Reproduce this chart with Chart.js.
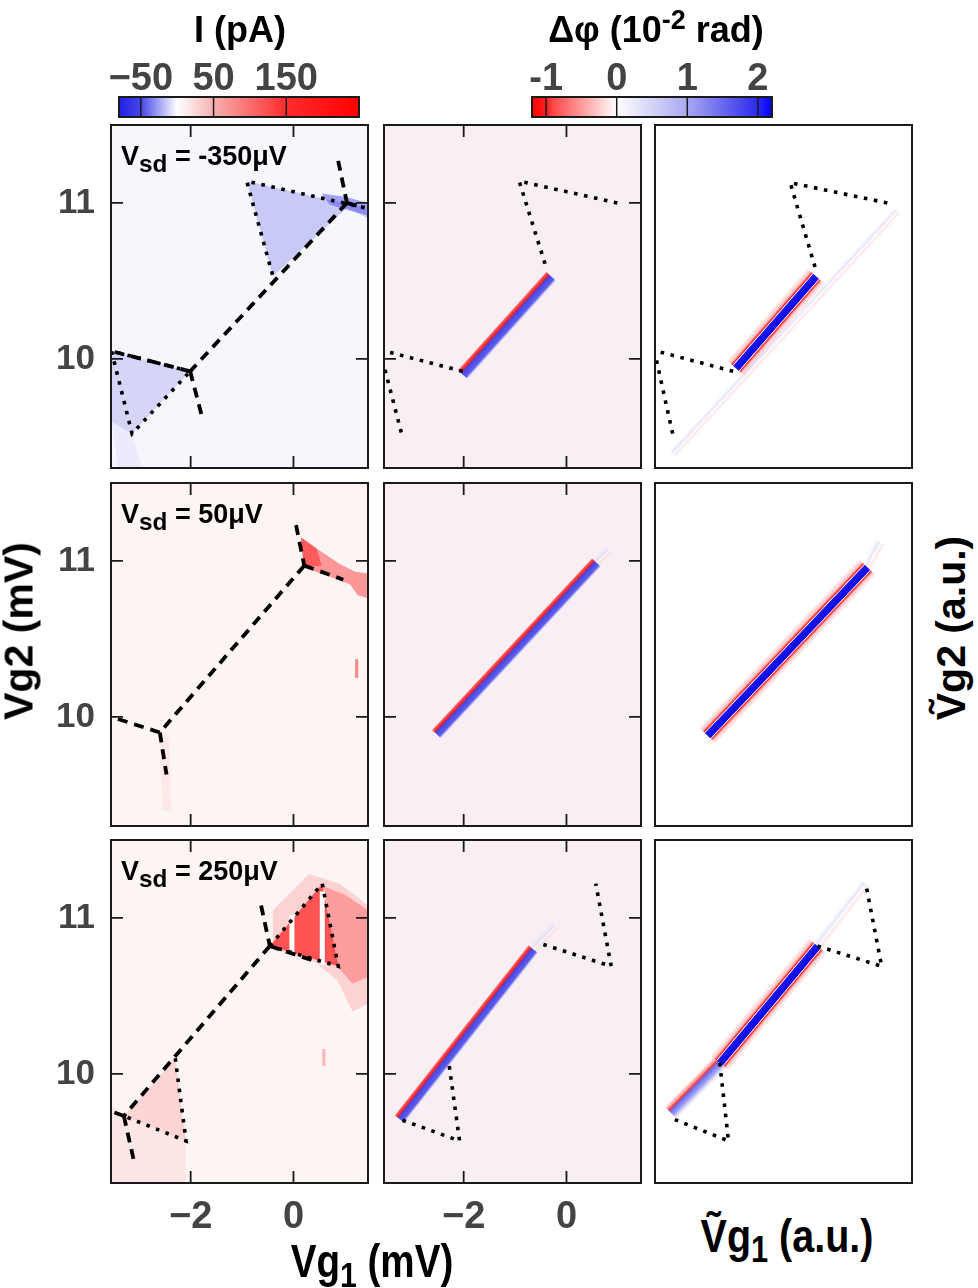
<!DOCTYPE html>
<html>
<head>
<meta charset="utf-8">
<script src="https://cdn.jsdelivr.net/npm/chart.js@4.4.1/dist/chart.umd.min.js"></script>
<style>
  body { margin: 0; width: 978px; height: 1288px; background: #fff; position: relative; overflow: hidden;
         font-family: 'Liberation Sans', Arial, sans-serif; font-weight: bold; }
  canvas { position: absolute; z-index: 1; }
  .lbl { position: absolute; white-space: nowrap; color: #000; line-height: 1; z-index: 2; }
  .lbl sub { font-size: 0.78em; vertical-align: -0.28em; line-height: 0; }
  .lbl sup { font-size: 0.75em; vertical-align: 0.5em; line-height: 0; }
  .vsd sub { font-size: 0.9em; vertical-align: -0.3em; }
</style>
</head>
<body>
<div class="lbl" style="left:240px;top:12px;font-size:36px;transform:translateX(-50%)">I (pA)</div>
<div class="lbl" style="left:656px;top:12px;font-size:36px;transform:translateX(-50%)">Δφ (10<sup>-2</sup> rad)</div>
<div class="lbl vsd" style="left:121px;top:143px;font-size:27px">V<sub>sd</sub> = -350μV</div>
<div class="lbl vsd" style="left:121px;top:501px;font-size:27px">V<sub>sd</sub> = 50μV</div>
<div class="lbl vsd" style="left:121px;top:858px;font-size:27px">V<sub>sd</sub> = 250μV</div>
<div class="lbl" style="left:19px;top:631px;font-size:41px;transform:translate(-50%,-50%) rotate(-90deg)">Vg2 (mV)</div>
<div class="lbl" style="left:951px;top:628px;font-size:41px;transform:translate(-50%,-50%) rotate(-90deg)">Ṽg2 (a.u.)</div>
<div class="lbl" style="left:372px;top:1238px;font-size:46px;transform:translateX(-50%) scaleX(0.84)">Vg<sub>1</sub> (mV)</div>
<div class="lbl" style="left:787px;top:1212px;font-size:47px;transform:translateX(-50%) scaleX(0.84)">Ṽg<sub>1</sub> (a.u.)</div>

<script>
// ---------- data ----------
var X_RANGE = [-3.55, 1.45];          // Vg1 (mV)
var Y_RANGE = [9.30, 11.50];          // Vg2 (mV)
var X_TICKS = [-2, 0];
var Y_TICKS = [10, 11];

var CURRENT_RANGE = [-80, 250];       // I (pA) colour bar
var CURRENT_TICKS = [-50, 50, 150];
var PHASE_RANGE = [-1.2, 2.2];        // dphi (1e-2 rad) colour bar
var PHASE_TICKS = [-1, 0, 1, 2];

// Vsd = -350 uV : transport
var t1Dashed = [
  [[0.87, 11.27], [1.04, 11.00]],
  [[1.04, 11.00], [1.38, 10.97]],
  [[1.04, 11.00], [-2.01, 9.92]],
  [[-2.01, 9.92], [-3.55, 10.05]],
  [[-2.01, 9.92], [-1.78, 9.63]]
];
var t1Dotted = [
  [[1.38, 10.97], [-0.91, 11.14], [-0.40, 10.53]],
  [[-2.01, 9.92], [-3.54, 10.05], [-3.14, 9.52], [-2.01, 9.92]]
];
var t1BlueUpper = [[-0.91, 11.14], [1.40, 10.97], [1.45, 10.90], [1.04, 10.97], [-0.40, 10.53]];
var t1BlueSpot = [[0.55, 11.06], [1.00, 11.04], [1.45, 11.00], [1.45, 10.92], [1.00, 10.96], [0.70, 10.99]];
var t1BlueLower = [[-3.55, 10.05], [-2.01, 9.92], [-3.14, 9.52], [-3.55, 9.60]];
var t1BlueTail = [[-3.55, 9.60], [-3.14, 9.52], [-2.95, 9.30], [-3.40, 9.30]];

// Vsd = -350 uV : phase and model
var p1Stripe = [[-2.02, 9.90], [-0.30, 10.53]];
var p1Dotted = [
  [[0.99, 11.00], [-0.92, 11.14], [-0.38, 10.57]],
  [[-2.02, 9.92], [-3.53, 10.05]],
  [[-3.53, 9.93], [-3.20, 9.51]]
];
var m1Stripe = [[-1.98, 9.94], [-0.42, 10.53]];
var m1Faint = [[-3.20, 9.39], [1.17, 10.95]];
var m1Dotted = [
  [[0.97, 11.00], [-0.92, 11.13], [-0.42, 10.57]],
  [[-2.03, 9.92], [-3.52, 10.05]],
  [[-3.52, 9.99], [-3.20, 9.51]]
];

// Vsd = 50 uV
var t2Dashed = [
  [[0.05, 11.23], [0.21, 10.97]],
  [[0.21, 10.97], [0.97, 10.88]],
  [[0.21, 10.97], [-2.60, 9.90]],
  [[-2.60, 9.90], [-3.45, 9.99]],
  [[-2.60, 9.90], [-2.47, 9.63]]
];
var t2RedBand = [[0.15, 11.15], [0.45, 11.08], [0.90, 10.98], [1.20, 10.93], [1.45, 10.92], [1.45, 10.76],
                 [1.25, 10.78], [1.10, 10.85], [0.70, 10.90], [0.35, 10.94], [0.20, 10.96]];
var t2RedCore = [[0.15, 11.15], [0.45, 11.08], [0.55, 10.97], [0.20, 10.96]];
var t2RedTrace = [[1.23, 10.37], [1.23, 10.25]];
var t2RedTail = [[-2.60, 9.90], [-2.42, 9.86], [-2.38, 9.40], [-2.55, 9.40]];
var p2Stripe = [[-2.53, 9.89], [0.58, 10.99]];
var p2Faint = [[0.58, 10.99], [0.84, 11.07]];
var m2Stripe = [[-2.53, 9.88], [0.58, 10.96]];
var m2Faint = [[0.58, 10.96], [0.84, 11.12]];

// Vsd = 250 uV
var t3Dashed = [
  [[-0.63, 11.08], [-0.46, 10.82]],
  [[-0.46, 10.82], [0.35, 10.73]],
  [[-0.46, 10.82], [-3.30, 9.73]],
  [[-3.30, 9.73], [-3.55, 9.76]],
  [[-3.30, 9.73], [-3.11, 9.45]]
];
var t3Dotted = [
  [[-0.46, 10.82], [0.56, 11.22], [0.87, 10.69], [-0.46, 10.82]],
  [[-2.30, 10.10], [-2.09, 9.57], [-3.30, 9.73]]
];
var t3RedHalo = [[-0.40, 11.05], [0.30, 11.28], [0.90, 11.22], [1.45, 11.08], [1.45, 10.45], [1.15, 10.40],
                 [0.85, 10.60], [0.40, 10.72], [-0.40, 10.80]];
var t3RedRight = [[0.60, 11.20], [1.00, 11.15], [1.45, 11.05], [1.45, 10.62], [1.15, 10.58], [0.85, 10.69]];
var t3RedPeak = [[-0.46, 10.82], [0.56, 11.22], [0.87, 10.69]];
var t3Gaps = [
  [[-0.03, 10.78], [-0.03, 11.02]],
  [[0.56, 10.70], [0.56, 11.17]]
];
var t3RedLower = [[-2.30, 10.10], [-2.09, 9.57], [-3.30, 9.73]];
var t3RedTail = [[-3.55, 9.80], [-3.30, 9.73], [-2.09, 9.57], [-2.10, 9.30], [-3.55, 9.30]];
var t3RedTrace = [[0.59, 10.16], [0.59, 10.05]];
var p3Stripe = [[-3.25, 9.71], [-0.65, 10.80]];
var p3Faint = [[-0.65, 10.80], [-0.20, 10.95]];
var p3Dotted = [
  [[-0.45, 10.83], [0.87, 10.69], [0.57, 11.22]],
  [[-2.28, 10.05], [-2.08, 9.57], [-3.25, 9.71]]
];
var m3Core = [[-2.29, 10.07], [-0.39, 10.82]];
var m3Tail = [[-3.24, 9.75], [-2.29, 10.07]];
var m3Faint = [[-0.39, 10.82], [0.55, 11.22]];
var m3Dotted = [
  [[-0.39, 10.82], [0.86, 10.69], [0.55, 11.22]],
  [[-2.29, 10.07], [-2.12, 9.57], [-3.19, 9.71]]
];

// ---------- styles ----------
var COL_LEFT = [111, 384, 655];
var ROW_TOP = [125, 483, 840];
var PW = 257, PH = 343;
var Y_TICK_FONT = { family: "'Liberation Sans', Arial, sans-serif", size: 35, weight: 'bold' };
var X_TICK_FONT = { family: "'Liberation Sans', Arial, sans-serif", size: 38, weight: 'bold' };
var BAR_FONT = { family: "'Liberation Sans', Arial, sans-serif", size: 38, weight: 'bold' };

var PHASE_STRIPE = [[0, 'rgba(255,80,80,0)'], [0.1, 'rgba(245,40,40,0.75)'], [0.3, 'rgb(238,30,40)'],
                    [0.4, 'rgb(70,70,228)'], [0.8, 'rgb(95,95,235)'], [1, 'rgba(150,150,245,0)']];
var MODEL_STRIPE = [[0, 'rgba(255,60,60,0)'], [0.2, 'rgba(255,90,90,0.35)'], [0.3, 'rgb(255,20,20)'],
                    [0.34, 'rgb(255,255,255)'], [0.37, 'rgb(25,25,235)'], [0.65, 'rgb(10,10,230)'],
                    [0.68, 'rgb(255,255,255)'], [0.72, 'rgb(255,30,30)'], [0.82, 'rgba(255,90,90,0.3)'],
                    [1, 'rgba(255,60,60,0)']];
var MODEL_TAIL = [[0, 'rgba(255,60,60,0)'], [0.2, 'rgba(255,60,60,0.5)'], [0.32, 'rgba(255,30,30,0.9)'],
                  [0.4, 'rgba(90,90,232,0.9)'], [0.68, 'rgba(130,130,240,0.75)'], [1, 'rgba(200,200,250,0)']];
var FAINT = [[0, 'rgba(220,220,250,0)'], [0.35, 'rgba(200,200,248,0.45)'], [0.55, 'rgba(255,255,255,0.5)'],
             [0.7, 'rgba(255,200,200,0.45)'], [1, 'rgba(255,220,220,0)']];

var CURRENT_COLORS = [[-80, '#2020e6'], [-50, '#4646ea'], [0, '#ffffff'], [50, '#f6b0b0'], [150, '#ff2c2c'], [250, '#ff0000']];
var PHASE_COLORS = [[-1.2, '#ff0000'], [-1, '#ff2020'], [-0.9, '#ff4848'], [0, '#ffffff'], [1, '#a8a8f2'], [2, '#2a2aee'], [2.2, '#0000ff']];

function pts(a) { return a.map(function (p) { return { x: p[0], y: p[1] }; }); }

function lineSet(a, color, width, dash) {
  return { data: pts(a), showLine: true, borderColor: color, borderWidth: width, borderDash: dash || [],
           borderCapStyle: 'butt', borderJoinStyle: 'miter', pointRadius: 0, fill: false, clip: 0 };
}
function dashed(a) { return lineSet(a, '#000', 3.8, [10, 7]); }
function dotted(a) { return lineSet(a, '#000', 3.6, [3.6, 6.6]); }

function areaSet(a, color) {
  return { data: pts(a.concat([a[0]])), showLine: true, borderWidth: 0, borderColor: 'rgba(0,0,0,0)',
           backgroundColor: color, fill: 'shape', pointRadius: 0, clip: 0 };
}

// gradient across the stripe, perpendicular to its direction
function stripeColor(stops, width) {
  return function (ctx) {
    var chart = ctx.chart, d = ctx.dataset.data;
    if (!chart.chartArea) return stops[Math.floor(stops.length / 2)][1];
    var xs = chart.scales.x, ys = chart.scales.y;
    var x0 = xs.getPixelForValue(d[0].x), y0 = ys.getPixelForValue(d[0].y);
    var x1 = xs.getPixelForValue(d[1].x), y1 = ys.getPixelForValue(d[1].y);
    var len = Math.hypot(x1 - x0, y1 - y0) || 1;
    var nx = (y1 - y0) / len, ny = -(x1 - x0) / len, h = width / 2;
    var g = chart.ctx.createLinearGradient(x0 + nx * h, y0 + ny * h, x0 - nx * h, y0 - ny * h);
    stops.forEach(function (s) { g.addColorStop(s[0], s[1]); });
    return g;
  };
}
function stripeSet(a, width, stops) {
  return { data: pts(a), showLine: true, borderWidth: width, borderCapStyle: 'butt', pointRadius: 0,
           fill: false, clip: 0, borderColor: stripeColor(stops, width) };
}

var panelFrame = {
  id: 'panelFrame',
  beforeDatasetsDraw: function (chart, args, opts) {
    var a = chart.chartArea, c = chart.ctx;
    if (opts.bg) { c.save(); c.fillStyle = opts.bg; c.fillRect(a.left, a.top, a.width, a.height); c.restore(); }
  },
  afterDraw: function (chart, args, opts) {
    var a = chart.chartArea, c = chart.ctx, xs = chart.scales.x, ys = chart.scales.y;
    c.save();
    c.strokeStyle = '#1a1a1a';
    if (opts.ticks) {
      c.lineWidth = 1.8;
      c.beginPath();
      X_TICKS.forEach(function (v) {
        var p = xs.getPixelForValue(v);
        c.moveTo(p, a.top); c.lineTo(p, a.top + 12);
        c.moveTo(p, a.bottom); c.lineTo(p, a.bottom - 12);
      });
      Y_TICKS.forEach(function (v) {
        var p = ys.getPixelForValue(v);
        c.moveTo(a.left, p); c.lineTo(a.left + 12, p);
        c.moveTo(a.right, p); c.lineTo(a.right - 12, p);
      });
      c.stroke();
    }
    c.lineWidth = 2;
    c.strokeRect(a.left, a.top, a.width, a.height);
    c.restore();
  }
};

function minusFmt(v) { return v < 0 ? '\u2212' + Math.abs(v) : String(v); }
function noPad(s) { s.paddingLeft = 0; s.paddingRight = 0; s.paddingTop = 0; s.paddingBottom = 0; }

function makePanel(r, c, bg, ticks, layers) {
  var showX = r === 2 && c < 2, showY = c === 0;
  var L = COL_LEFT[c], T = ROW_TOP[r];
  var cv = document.createElement('canvas');
  var left = showY ? 0 : L - 3;
  var w = (showY ? L : 3) + PW + 3;
  var h = 3 + PH + (showX ? 60 : 3);
  cv.style.left = left + 'px'; cv.style.top = (T - 3) + 'px';
  cv.style.width = w + 'px'; cv.style.height = h + 'px';
  cv.width = w; cv.height = h;
  document.body.appendChild(cv);
  new Chart(cv, {
    type: 'scatter',
    data: { datasets: layers.slice().reverse() },
    plugins: [panelFrame],
    options: {
      responsive: false, animation: false, devicePixelRatio: 1,
      layout: { padding: { top: 3, right: 3, left: showY ? 0 : 3, bottom: showX ? 0 : 3 } },
      plugins: { legend: { display: false }, tooltip: { enabled: false }, panelFrame: { bg: bg, ticks: ticks } },
      scales: {
        x: {
          type: 'linear', min: X_RANGE[0], max: X_RANGE[1], display: showX, position: 'bottom',
          afterBuildTicks: function (s) { s.ticks = X_TICKS.map(function (v) { return { value: v }; }); },
          afterFit: function (s) { if (showX) s.height = 60; noPad(s); },
          grid: { display: false, drawTicks: false }, border: { display: false },
          ticks: { font: X_TICK_FONT, color: '#444', padding: 12, maxRotation: 0, callback: minusFmt }
        },
        y: {
          type: 'linear', min: Y_RANGE[0], max: Y_RANGE[1], display: showY,
          afterBuildTicks: function (s) { s.ticks = Y_TICKS.map(function (v) { return { value: v }; }); },
          afterFit: function (s) { if (showY) s.width = L; noPad(s); },
          grid: { display: false, drawTicks: false }, border: { display: false },
          ticks: { font: Y_TICK_FONT, color: '#444', padding: 16 }
        }
      }
    }
  });
}

// ---------- colour bars ----------
var barFrame = {
  id: 'barFrame',
  afterDatasetsDraw: function (chart, args, opts) {
    var a = chart.chartArea, c = chart.ctx, xs = chart.scales.x;
    c.save();
    c.strokeStyle = '#1a1a1a';
    c.lineWidth = 1.5;
    c.beginPath();
    opts.ticks.forEach(function (v) { var p = xs.getPixelForValue(v); c.moveTo(p, a.top); c.lineTo(p, a.bottom); });
    c.stroke();
    c.lineWidth = 2;
    c.strokeRect(a.left, a.top, a.width, a.height);
    c.restore();
  }
};

function makeColorBar(left, barLeft, label, range, ticks, colors, fmt) {
  var cv = document.createElement('canvas');
  var w = 300, h = 80, top = 40;
  cv.style.left = left + 'px'; cv.style.top = top + 'px';
  cv.style.width = w + 'px'; cv.style.height = h + 'px';
  cv.width = w; cv.height = h;
  document.body.appendChild(cv);
  var padL = barLeft - left, padR = w - padL - 240;
  new Chart(cv, {
    type: 'bar',
    data: {
      labels: [label],
      datasets: [{
        data: [range], barPercentage: 1, categoryPercentage: 1, borderWidth: 0,
        backgroundColor: function (ctx) {
          var ch = ctx.chart;
          if (!ch.chartArea) return '#fff';
          var xs = ch.scales.x;
          var g = ch.ctx.createLinearGradient(xs.getPixelForValue(range[0]), 0, xs.getPixelForValue(range[1]), 0);
          colors.forEach(function (s) { g.addColorStop((s[0] - range[0]) / (range[1] - range[0]), s[1]); });
          return g;
        }
      }]
    },
    plugins: [barFrame],
    options: {
      indexAxis: 'y', responsive: false, animation: false, devicePixelRatio: 1,
      layout: { padding: { left: padL, right: padR, bottom: 3 } },
      plugins: { legend: { display: false }, tooltip: { enabled: false }, barFrame: { ticks: ticks } },
      scales: {
        x: {
          type: 'linear', position: 'top', min: range[0], max: range[1],
          afterBuildTicks: function (s) { s.ticks = ticks.map(function (v) { return { value: v }; }); },
          afterFit: function (s) { s.height = 57; noPad(s); },
          grid: { display: false, drawTicks: false }, border: { display: false },
          ticks: { font: BAR_FONT, color: '#444', padding: -5, maxRotation: 0, callback: fmt }
        },
        y: { display: false }
      }
    }
  });
}

makeColorBar(90, 119, 'I (pA)', CURRENT_RANGE, CURRENT_TICKS, CURRENT_COLORS, minusFmt);
makeColorBar(500, 532, 'dphi', PHASE_RANGE, PHASE_TICKS, PHASE_COLORS, function (v) { return String(v); });

// ---------- panels ----------
var BLUE_BG = '#f6f6fd', PINK_BG = '#fdf4f4', NOISE_BG = '#f8eff4';

makePanel(0, 0, BLUE_BG, true, [
  areaSet(t1BlueUpper, 'rgba(95,95,235,0.30)'),
  areaSet(t1BlueSpot, 'rgba(60,60,240,0.45)'),
  areaSet(t1BlueLower, 'rgba(110,110,235,0.24)'),
  areaSet(t1BlueTail, 'rgba(120,120,235,0.08)')
].concat(t1Dashed.map(dashed), t1Dotted.map(dotted)));

makePanel(0, 1, NOISE_BG, true,
  [stripeSet(p1Stripe, 14, PHASE_STRIPE)].concat(p1Dotted.map(dotted)));

makePanel(0, 2, null, false,
  [stripeSet(m1Faint, 10, FAINT), stripeSet(m1Stripe, 24, MODEL_STRIPE)].concat(m1Dotted.map(dotted)));

makePanel(1, 0, PINK_BG, true, [
  areaSet(t2RedTail, 'rgba(255,120,120,0.10)'),
  areaSet(t2RedBand, 'rgba(255,40,40,0.45)'),
  areaSet(t2RedCore, 'rgba(255,20,20,0.45)'),
  lineSet(t2RedTrace, 'rgba(255,60,60,0.6)', 3)
].concat(t2Dashed.map(dashed)));

makePanel(1, 1, NOISE_BG, true, [
  stripeSet(p2Faint, 10, FAINT),
  stripeSet(p2Stripe, 13, PHASE_STRIPE)
]);

makePanel(1, 2, null, false, [
  stripeSet(m2Faint, 12, FAINT),
  stripeSet(m2Stripe, 24, MODEL_STRIPE)
]);

makePanel(2, 0, PINK_BG, true, [
  areaSet(t3RedHalo, 'rgba(255,90,90,0.22)'),
  areaSet(t3RedRight, 'rgba(255,60,60,0.35)'),
  areaSet(t3RedPeak, 'rgba(255,30,30,0.70)'),
  areaSet(t3RedTail, 'rgba(255,130,130,0.12)'),
  areaSet(t3RedLower, 'rgba(255,100,100,0.22)'),
  lineSet(t3RedTrace, 'rgba(255,120,120,0.5)', 3)
].concat(t3Gaps.map(function (g) { return lineSet(g, '#ffffff', 5); }), t3Dashed.map(dashed), t3Dotted.map(dotted)));

makePanel(2, 1, NOISE_BG, true, [
  stripeSet(p3Faint, 10, FAINT),
  stripeSet(p3Stripe, 13, PHASE_STRIPE)
].concat(p3Dotted.map(dotted)));

makePanel(2, 2, null, false, [
  stripeSet(m3Faint, 12, FAINT),
  stripeSet(m3Tail, 18, MODEL_TAIL),
  stripeSet(m3Core, 24, MODEL_STRIPE)
].concat(m3Dotted.map(dotted)));
</script>
</body>
</html>
